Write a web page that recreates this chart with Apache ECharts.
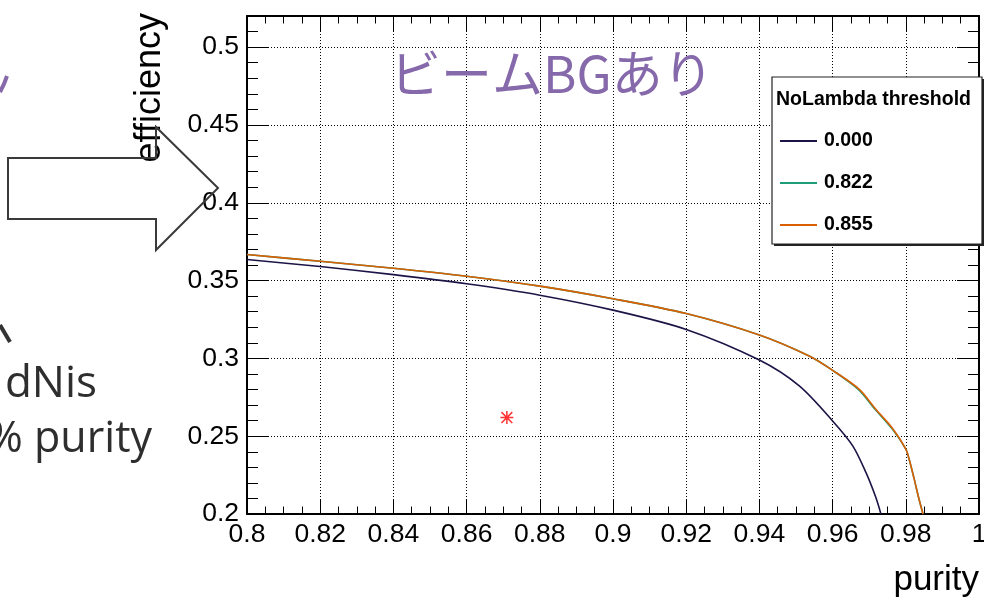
<!DOCTYPE html>
<html>
<head>
<meta charset="utf-8">
<script src="https://cdn.jsdelivr.net/npm/echarts@6/dist/echarts.min.js"></script>
<style>
  html, body { margin: 0; padding: 0; background: #ffffff; }
  #chart { width: 984px; height: 598px; }
</style>
</head>
<body>
<div id="chart"></div>
<script>
// Tick labels
const xTickLabels = ['0.8', '0.82', '0.84', '0.86', '0.88', '0.9', '0.92', '0.94', '0.96', '0.98', '1'];
const yTickLabels = ['0.2', '0.25', '0.3', '0.35', '0.4', '0.45', '0.5'];

// Legend entries (NoLambda threshold)
const thresholdNames = ['0.000', '0.822', '0.855'];

// Efficiency vs purity curves, one per threshold
const purity000 = [0.800, 0.820, 0.840, 0.860, 0.880, 0.900, 0.920, 0.940, 0.9509, 0.960, 0.9655, 0.9691, 0.9718, 0.9732];
const eff000    = [0.3635, 0.3590, 0.3538, 0.3479, 0.3406, 0.3310, 0.3186, 0.2989, 0.2823, 0.2598, 0.2438, 0.2267, 0.2107, 0.2000];

const purity822 = [0.800, 0.820, 0.840, 0.860, 0.880, 0.900, 0.920, 0.940, 0.9536, 0.960, 0.9670, 0.9716, 0.9762, 0.9800, 0.9809, 0.9823, 0.9836, 0.9847];
const eff822    = [0.3667, 0.3624, 0.3579, 0.3528, 0.3464, 0.3383, 0.3288, 0.3150, 0.3015, 0.2923, 0.2801, 0.2673, 0.2549, 0.2417, 0.2353, 0.2224, 0.2096, 0.2000];

const purity855 = [0.800, 0.820, 0.840, 0.860, 0.880, 0.900, 0.920, 0.940, 0.9536, 0.960, 0.9673, 0.9718, 0.9764, 0.9800, 0.9809, 0.9823, 0.9836, 0.9847];
const eff855    = [0.3667, 0.3624, 0.3579, 0.3528, 0.3464, 0.3383, 0.3288, 0.3150, 0.3015, 0.2923, 0.2801, 0.2673, 0.2549, 0.2417, 0.2353, 0.2224, 0.2096, 0.2000];

// Single reference working point
const refPurity = [0.871];
const refEfficiency = [0.262];

const seriesColors = ['#1c1446', '#1b9e77', '#d95f02'];
const FONT = 'Liberation Sans, Arial, Helvetica, sans-serif';

function zip(xs, ys) { return xs.map((x, i) => [x, ys[i]]); }

function tickFormatter(labels, start, step) {
  return function (v) {
    const i = Math.round((v - start) / step);
    if (i < 0 || i >= labels.length) return '';
    return Math.abs(v - (start + i * step)) < 1e-6 ? labels[i] : '';
  };
}

const frameLine = { show: true, onZero: false, lineStyle: { color: '#000', width: 2 } };
const tickLine = { color: '#000', width: 1 };
const gridDots = { show: true, lineStyle: { color: '#000', width: 1, type: [1, 2] } };

// Asterisk marker built from four thin bars
const asterisk = 'path://M0 5.3L12 5.3L12 6.7L0 6.7Z M5.3 0L6.7 0L6.7 12L5.3 12Z ' +
  'M1.5 0.5L11.5 10.5L10.5 11.5L0.5 1.5Z M10.5 0.5L11.5 1.5L1.5 11.5L0.5 10.5Z';

const chart = echarts.init(document.getElementById('chart'), null, { renderer: 'canvas' });

function curve(idx, xs, ys, z) {
  return {
    name: thresholdNames[idx], type: 'line', data: zip(xs, ys),
    xAxisIndex: 0, yAxisIndex: 0, symbol: 'none', showSymbol: false, clip: true, z: z,
    smooth: 0.3,
    color: seriesColors[idx], lineStyle: { color: seriesColors[idx], width: 1.6 }
  };
}

const option = {
  animation: false,
  backgroundColor: '#ffffff',
  grid: { left: 247, right: 5, top: 16, bottom: 84, containLabel: false, outerBoundsMode: 'none' },
  xAxis: [
    {
      type: 'value', position: 'bottom', min: 0.8, max: 1.0, interval: 0.02,
      axisLine: frameLine,
      axisTick: { show: true, inside: true, length: 15, lineStyle: tickLine },
      minorTick: { show: true, splitNumber: 4, length: 7.5, lineStyle: tickLine },
      axisLabel: { show: true, formatter: tickFormatter(xTickLabels, 0.8, 0.02), fontFamily: FONT, fontSize: 26.5, color: '#000', margin: 7 },
      splitLine: gridDots
    },
    {
      type: 'value', position: 'top', min: 0.8, max: 1.0, interval: 0.02,
      axisLine: frameLine,
      axisTick: { show: true, inside: true, length: 15, lineStyle: tickLine },
      minorTick: { show: true, splitNumber: 4, length: 7.5, lineStyle: tickLine },
      axisLabel: { show: false },
      splitLine: { show: false }
    }
  ],
  yAxis: [
    {
      type: 'value', position: 'left', min: 0.2, max: 0.52, interval: 0.05,
      axisLine: frameLine,
      axisTick: { show: true, inside: true, length: 22, lineStyle: tickLine },
      axisLabel: { show: true, formatter: tickFormatter(yTickLabels, 0.2, 0.05), fontFamily: FONT, fontSize: 26.5, color: '#000', margin: 8 },
      splitLine: gridDots
    },
    {
      type: 'value', position: 'left', min: 0.2, max: 0.52, interval: 0.01,
      axisLine: { show: false },
      axisTick: { show: true, inside: true, length: 11, lineStyle: tickLine },
      axisLabel: { show: false },
      splitLine: { show: false }
    },
    {
      type: 'value', position: 'right', min: 0.2, max: 0.52, interval: 0.05,
      axisLine: frameLine,
      axisTick: { show: true, inside: true, length: 22, lineStyle: tickLine },
      axisLabel: { show: false },
      splitLine: { show: false }
    },
    {
      type: 'value', position: 'right', min: 0.2, max: 0.52, interval: 0.01,
      axisLine: { show: false },
      axisTick: { show: true, inside: true, length: 11, lineStyle: tickLine },
      axisLabel: { show: false },
      splitLine: { show: false }
    }
  ],
  legend: {
    data: thresholdNames,
    orient: 'vertical',
    left: 780, top: 130,
    itemWidth: 37, itemHeight: 2, itemGap: 20,
    icon: 'rect',
    padding: 0,
    selectedMode: false,
    z: 20,
    textStyle: { fontFamily: FONT, fontWeight: 'bold', fontSize: 19.5, color: '#000', lineHeight: 22, padding: [0, 0, 0, 2] }
  },
  series: [
    curve(0, purity000, eff000, 3),
    curve(1, purity822, eff822, 3),
    curve(2, purity855, eff855, 4),
    {
      name: 'working point', type: 'scatter', data: zip(refPurity, refEfficiency),
      xAxisIndex: 0, yAxisIndex: 0, symbol: asterisk, symbolSize: 13, z: 5,
      itemStyle: { color: '#ff0000' }
    }
  ],
  graphic: [
    // Axis titles
    {
      type: 'text', x: 150, y: 13, rotation: Math.PI / 2, z: 5,
      style: { text: 'efficiency', fontFamily: FONT, fontSize: 36, fill: '#000',
               align: 'right', textAlign: 'right', verticalAlign: 'middle', textVerticalAlign: 'middle' }
    },
    {
      type: 'text', x: 979, y: 580, z: 5,
      style: { text: 'purity', fontFamily: FONT, fontSize: 35, fill: '#000',
               align: 'right', textAlign: 'right', verticalAlign: 'middle', textVerticalAlign: 'middle' }
    },
    // Legend frame with shadow and header
    { type: 'rect', z: 10, shape: { x: 774, y: 79, width: 210, height: 167 }, style: { fill: '#222' } },
    { type: 'rect', z: 11, shape: { x: 772, y: 77, width: 210, height: 167 }, style: { fill: '#fff', stroke: '#222', lineWidth: 1.2 } },
    {
      type: 'text', x: 776, y: 100, z: 12,
      style: { text: 'NoLambda threshold', fontFamily: FONT, fontWeight: 'bold', fontSize: 19.5, fill: '#000',
               align: 'left', textAlign: 'left', verticalAlign: 'middle', textVerticalAlign: 'middle' }
    },
    // Caption
    {
      type: 'text', x: 390, y: 74, z: 6,
      style: { text: 'ビームBGあり', fontFamily: 'Noto Sans CJK JP, sans-serif', fontSize: 51, fill: '#8669ab',
               align: 'left', textAlign: 'left', verticalAlign: 'middle', textVerticalAlign: 'middle' }
    },
    // Block arrow and side notes
    {
      type: 'polygon', z: 6,
      shape: { points: [[8, 158], [156, 158], [156, 127], [218, 188], [156, 250], [156, 219], [8, 219]] },
      style: { fill: null, stroke: '#3a3a3a', lineWidth: 2 }
    },
    { type: 'polyline', z: 6, shape: { points: [[0, 92], [4, 84], [7, 76]] }, style: { fill: null, stroke: '#8669ab', lineWidth: 4 } },
    { type: 'line', z: 6, shape: { x1: 0, y1: 325, x2: 10, y2: 342 }, style: { stroke: '#333', lineWidth: 4 } },
    {
      type: 'text', x: 97, y: 384, z: 6,
      style: { text: 'dNis', fontFamily: 'Open Sans, sans-serif', fontSize: 44, fill: '#2e2e2e',
               align: 'right', textAlign: 'right', verticalAlign: 'middle', textVerticalAlign: 'middle' }
    },
    {
      type: 'text', x: 152, y: 440, z: 6,
      style: { text: '% purity', fontFamily: 'Open Sans, sans-serif', fontSize: 43, fill: '#2e2e2e',
               align: 'right', textAlign: 'right', verticalAlign: 'middle', textVerticalAlign: 'middle' }
    }
  ]
};

chart.setOption(option);
</script>
</body>
</html>
